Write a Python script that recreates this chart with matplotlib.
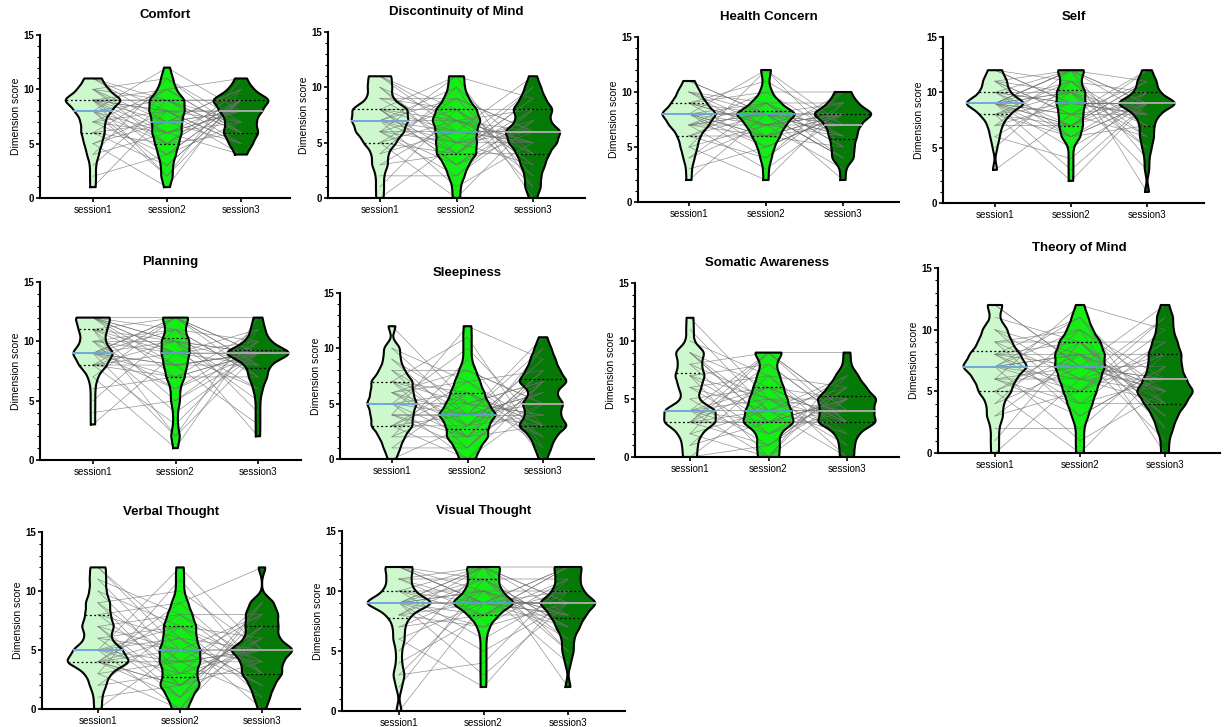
import numpy as np
import matplotlib
matplotlib.use('Agg')
import matplotlib.pyplot as plt
from matplotlib.ticker import MultipleLocator

plt.rcParams['font.family'] = ['Liberation Sans', 'DejaVu Sans']

sessions = ['session1', 'session2', 'session3']

# scores per participant (same index = same participant across sessions)
comfort_s1 = [1,2,3,4,4,5,5,5,6,6,6,6,7,7,7,7,8,8,8,8,8,8,9,9,9,9,9,9,9,9,9,9,10,10,10,10,10,11,11,11]
comfort_s2 = [8,4,9,6,11,1,7,8,5,10,3,7,6,10,4,8,2,9,5,12,6,3,9,7,9,5,8,2,10,6,8,4,11,7,5,9,6,9,7,8]
comfort_s3 = [7,9,5,9,6,10,8,4,9,6,9,5,8,11,7,5,9,6,10,8,4,9,7,10,6,9,8,11,6,8,5,9,7,10,6,9,7,9,8,8]

discont_s1 = [0,1,2,3,3,4,4,5,5,5,5,6,6,6,6,6,6,7,7,7,7,7,7,7,8,8,8,8,8,8,8,9,9,9,10,10,10,11,11,11]
discont_s2 = [5,8,2,7,4,10,6,0,7,4,9,3,6,11,5,2,8,4,10,6,1,7,5,9,3,8,6,11,4,7,3,8,5,9,4,7,5,8,6,7]
discont_s3 = [6,3,8,5,10,0,5,7,4,9,2,6,5,9,3,7,1,8,4,11,5,2,7,6,8,4,6,1,9,5,7,3,10,6,4,8,5,8,6,6]

health_s1 = [2,3,4,4,5,5,5,6,6,6,6,7,7,7,7,7,7,7,8,8,8,8,8,8,8,8,8,8,9,9,9,9,9,9,10,10,10,10,11,11]
health_s2 = [8,5,9,7,12,2,7,8,6,9,4,8,7,10,6,8,3,9,6,12,7,5,8,8,9,6,8,4,10,7,8,5,11,7,6,8,7,9,8,8]
health_s3 = [6,8,4,8,5,9,7,2,8,6,9,4,8,10,7,4,8,5,10,7,3,8,6,9,5,8,7,10,6,8,4,8,7,9,5,8,6,9,7,8]

self_s1 = [3,5,6,6,7,7,7,8,8,8,8,8,8,9,9,9,9,9,9,9,9,9,9,9,9,9,10,10,10,10,10,10,11,11,11,11,11,12,12,12]
self_s2 = [8,11,4,10,7,12,9,2,10,7,11,6,9,12,8,5,10,7,12,8,3,10,7,12,6,11,9,12,7,9,6,10,8,12,6,10,8,11,9,9]
self_s3 = [9,6,10,8,12,1,9,9,7,11,5,9,8,11,6,9,3,10,8,12,9,5,9,9,10,7,9,4,11,8,9,6,11,9,7,10,8,10,9,9]

planning_s1 = [3,4,5,6,7,7,8,8,8,8,8,8,9,9,9,9,9,9,9,9,9,10,10,10,10,10,11,11,11,11,11,11,12,12,12,12,12,12,12,12]
planning_s2 = [9,5,11,7,12,1,8,10,7,12,3,9,8,12,6,10,2,11,7,12,8,4,10,9,11,6,9,2,12,8,10,5,12,9,7,10,8,11,9,10]
planning_s3 = [8,10,4,9,7,11,9,2,9,8,10,6,9,12,9,5,9,7,11,9,3,9,8,10,7,10,9,12,8,9,6,9,9,11,7,9,8,10,9,9]

sleep_s1 = [0,1,1,2,2,2,3,3,3,3,3,4,4,4,4,4,5,5,5,5,5,5,6,6,6,6,6,7,7,7,7,7,8,8,8,9,9,10,10,12]
sleep_s2 = [3,6,1,5,2,9,4,0,6,3,7,2,4,12,4,1,6,2,10,4,0,5,3,8,2,7,4,11,3,5,1,6,4,8,2,5,3,7,4,5]
sleep_s3 = [6,2,8,4,10,0,5,7,3,9,2,5,4,9,3,7,1,8,3,11,5,2,7,5,8,3,6,1,9,4,7,3,10,5,3,7,4,8,6,7]

somatic_s1 = [0,0,1,1,2,2,2,3,3,3,3,3,3,3,4,4,4,4,4,4,4,5,5,6,6,6,7,7,7,7,8,8,8,9,9,9,9,10,11,12]
somatic_s2 = [5,1,7,3,9,0,4,6,3,8,1,4,3,9,2,5,0,6,3,9,4,1,6,4,7,2,5,0,8,3,5,2,9,4,3,6,3,7,4,5]
somatic_s3 = [3,6,1,5,3,7,4,0,5,3,6,2,4,9,4,1,5,3,7,4,0,5,3,6,2,6,4,8,3,5,2,5,4,7,3,5,3,6,4,5]

tom_s1 = [0,1,2,3,3,4,4,5,5,5,5,6,6,6,6,6,7,7,7,7,7,7,7,7,8,8,8,8,8,8,9,9,9,9,10,10,10,11,12,12]
tom_s2 = [6,9,2,8,5,10,7,0,8,5,9,4,7,12,6,3,8,5,11,7,1,8,6,10,4,9,7,11,5,8,3,9,6,10,4,8,6,9,7,7]
tom_s3 = [6,3,8,5,11,0,5,7,4,9,2,6,5,10,4,7,1,8,4,12,5,3,8,6,9,4,6,2,10,5,7,3,11,5,4,8,5,9,6,7]

verbal_s1 = [0,1,2,2,3,3,3,4,4,4,4,4,4,4,4,5,5,5,5,5,5,6,6,6,7,7,7,7,8,8,8,9,9,9,10,10,11,11,12,12]
verbal_s2 = [5,2,7,3,11,0,4,6,2,8,1,5,4,9,2,6,0,7,3,12,4,1,7,5,8,2,5,1,9,3,6,2,10,4,3,7,4,8,5,6]
verbal_s3 = [4,7,1,6,3,9,5,0,6,4,8,2,5,12,4,2,7,3,9,5,1,6,4,8,3,7,5,9,3,5,2,7,5,8,3,6,4,8,5,5]

visual_s1 = [0,2,3,3,4,5,6,6,7,7,8,8,8,8,9,9,9,9,9,9,9,9,9,9,9,9,10,10,10,10,10,11,11,11,11,12,12,12,12,12]
visual_s2 = [9,11,4,10,8,12,9,2,10,8,11,7,9,12,9,5,10,8,12,9,3,10,9,12,7,11,9,12,8,10,6,11,9,12,8,10,9,11,9,9]
visual_s3 = [9,6,11,8,12,2,9,10,7,11,5,9,8,12,7,9,4,10,8,12,9,6,10,9,11,7,9,5,12,8,10,7,12,9,8,10,8,11,9,9]

panels = [
    ('Comfort', comfort_s1, comfort_s2, comfort_s3),
    ('Discontinuity of Mind', discont_s1, discont_s2, discont_s3),
    ('Health Concern', health_s1, health_s2, health_s3),
    ('Self', self_s1, self_s2, self_s3),
    ('Planning', planning_s1, planning_s2, planning_s3),
    ('Sleepiness', sleep_s1, sleep_s2, sleep_s3),
    ('Somatic Awareness', somatic_s1, somatic_s2, somatic_s3),
    ('Theory of Mind', tom_s1, tom_s2, tom_s3),
    ('Verbal Thought', verbal_s1, verbal_s2, verbal_s3),
    ('Visual Thought', visual_s1, visual_s2, visual_s3),
]

# pixel layout: left, right, y of 15, y of 0, x of session1, x of session3
layout = [
    (40, 290, 35, 198, 93, 241),
    (328, 585, 32, 198, 380, 533),
    (638, 899, 37, 202, 689, 843),
    (943, 1204, 37, 203, 995, 1147),
    (40, 301, 282, 460, 93, 258),
    (340, 594, 293, 459, 392, 543),
    (635, 899, 283, 457, 690, 847),
    (938, 1220, 268, 453, 995, 1165),
    (42, 300, 532, 709, 98, 262),
    (342, 625, 531, 711, 399, 568),
]

fills = ['#cdf7cd', '#14ee14', '#067a06']
med_colors = ['#6fa8dc', '#5aa0c8', '#a8a8a8']
W, H = 1226, 727
BW = 0.5


def kde(vals, ys):
    vals = np.asarray(vals, float)
    z = (ys[:, None] - vals[None, :]) / BW
    return np.exp(-0.5 * z ** 2).sum(1) / (len(vals) * BW * np.sqrt(2 * np.pi))


def draw_panel(ax, title, groups):
    curves = []
    for vals in groups:
        ys = np.linspace(min(vals), max(vals), 300)
        curves.append((ys, kde(vals, ys)))
    scale = 0.37 / max(d.max() for _, d in curves)

    # participant lines
    for a, b, c in zip(*groups):
        ax.plot([0, 1, 2], [a, b, c], color='#707070', lw=0.5, alpha=0.75, zorder=3)

    for i, (vals, (ys, d)) in enumerate(zip(groups, curves)):
        half = d * scale
        ax.fill_betweenx(ys, i - half, i + half, facecolor=fills[i], edgecolor='none', zorder=2)
        xs = np.concatenate([i - half, (i + half)[::-1], [i - half[0]]])
        yy = np.concatenate([ys, ys[::-1], [ys[0]]])
        ax.plot(xs, yy, color='black', lw=1.5, zorder=4)
        q1, med, q3 = np.percentile(vals, [25, 50, 75])
        for q in (q1, q3):
            w = np.interp(q, ys, half)
            ax.plot([i - w, i + w], [q, q], color='black', lw=0.9, ls=(0, (1.5, 2)), zorder=5)
        w = np.interp(med, ys, half)
        ax.plot([i - w, i + w], [med, med], color=med_colors[i], lw=1.4, zorder=5)

    ax.set_ylim(0, 15)
    ax.yaxis.set_major_locator(MultipleLocator(5))
    ax.yaxis.set_minor_locator(MultipleLocator(1))
    ax.set_xticks([0, 1, 2])
    ax.set_xticklabels(sessions, fontsize=7)
    for lab in ax.get_yticklabels():
        lab.set_fontsize(7)
        lab.set_fontweight('bold')
    ax.tick_params(axis='y', which='major', length=3, width=1.2, pad=1)
    ax.tick_params(axis='y', which='minor', length=2, width=0.8)
    ax.tick_params(axis='x', length=3, width=1.2, pad=2)
    ax.set_ylabel('Dimension score', fontsize=7.5, labelpad=2)
    ax.set_title(title, fontsize=9.5, fontweight='bold', pad=12)
    for s in ['top', 'right']:
        ax.spines[s].set_visible(False)
    for s in ['left', 'bottom']:
        ax.spines[s].set_linewidth(1.5)


fig = plt.figure(figsize=(W / 100, H / 100), dpi=100)
for (title, s1, s2, s3), (l, r, yt, yb, x1, x3) in zip(panels, layout):
    ax = fig.add_axes([l / W, 1 - yb / H, (r - l) / W, (yb - yt) / H])
    sp = (x3 - x1) / 2
    ax.set_xlim(-(x1 - l) / sp, 2 + (r - x3) / sp)
    draw_panel(ax, title, [s1, s2, s3])

fig.savefig('out.png', dpi=100)
